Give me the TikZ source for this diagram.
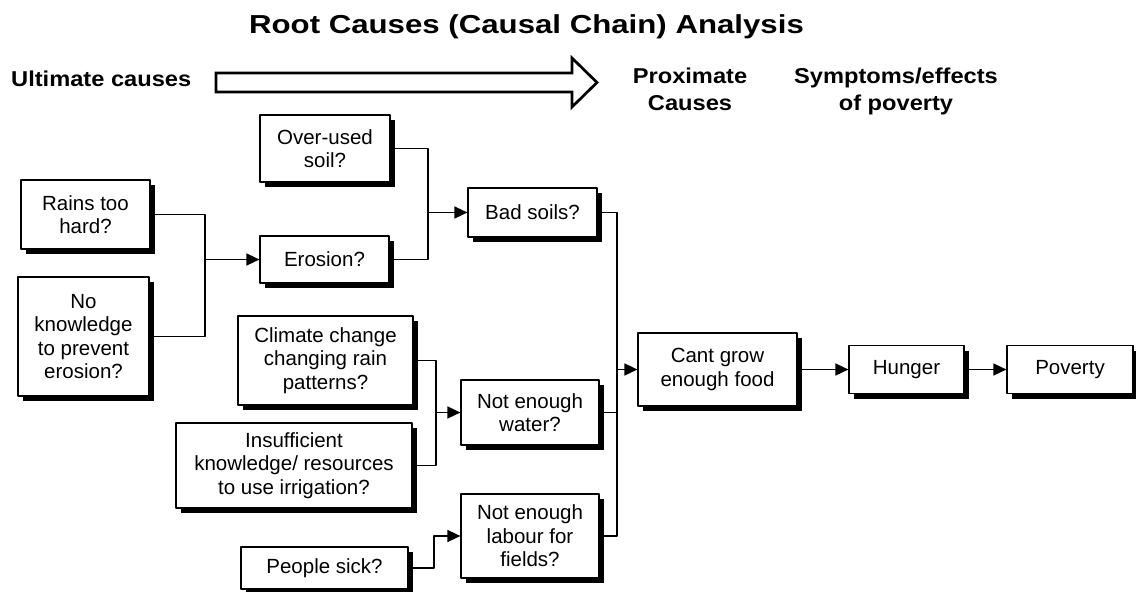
\documentclass[tikz,border=0pt]{standalone}
\usepackage{fontspec}
\setmainfont{Liberation Sans}
\newfontfamily\headfont{Liberation Sans}[FakeStretch=1.1]
\newfontfamily\titlefont{Liberation Sans}[FakeStretch=1.2]
\usetikzlibrary{arrows.meta, calc, shadows}

\begin{document}
\begin{tikzpicture}[line cap=round,line join=round,>={Triangle[length=13pt,width=12pt]},x=1pt,y=-1pt,
  box/.style={draw, line width=1.2pt, fill=white, align=center, inner sep=2pt,
    font=\fontsize{20.5}{23.5}\selectfont,
    drop shadow={shadow xshift=5pt, shadow yshift=-5pt, fill=black, opacity=1}},
  link/.style={line width=1.6pt},
  head/.style={font=\headfont\bfseries\fontsize{21.5}{27}\selectfont, align=center, inner sep=0pt}]
\useasboundingbox (0,0) rectangle (1136,592);

% Heading
\node [anchor=base, inner sep=0pt, font=\titlefont\bfseries\fontsize{26}{30}\selectfont] (title) at (526.5,33) {Root Causes (Causal Chain) Analysis};
\node [head, anchor=base west] (ultimate) at (11,86) {Ultimate causes};
\node [head, anchor=north] (proximate) at (690,68) {Proximate\\Causes};
\node [head, anchor=north] (symptoms) at (896,68) {Symptoms/effects\\of poverty};
\draw [line width=2.7pt, line join=miter] (216,73) -- (572,73) -- (572,58) -- (597,82.5) -- (572,107) -- (572,92) -- (216,92) -- cycle;

% Boxes
\node [box, minimum width=130pt, minimum height=67pt] (over) at (325,148.5) {Over-used\\soil?};
\node [box, minimum width=129pt, minimum height=69pt] (rains) at (85.5,214.5) {Rains too\\hard?};
\node [box, minimum width=129pt, minimum height=47pt] (erosion) at (324.5,259.5) {Erosion?};
\node [box, minimum width=131pt, minimum height=119pt] (noknow) at (83.5,336.5) {No\\knowledge\\to prevent\\erosion?};
\node [box, minimum width=129pt, minimum height=49pt] (bad) at (532.5,212.5) {Bad soils?};
\node [box, minimum width=175pt, minimum height=89pt] (climate) at (325.5,360.5) {Climate change\\changing rain\\patterns?};
\node [box, minimum width=236pt, minimum height=85pt] (insuff) at (294,465.5) {Insufficient\\knowledge/ resources\\to use irrigation?};
\node [box, minimum width=167pt, minimum height=42pt] (sick) at (324.5,568) {People sick?};
\node [box, minimum width=138pt, minimum height=65pt] (water) at (530,412.5) {Not enough\\water?};
\node [box, minimum width=138pt, minimum height=84pt] (labour) at (530,536) {Not enough\\labour for\\fields?};
\node [box, minimum width=159pt, minimum height=73pt] (cant) at (717.5,369.5) {Cant grow\\enough food};
\node [box, minimum width=115pt, minimum height=48pt] (hunger) at (906.5,369.5) {Hunger};
\node [box, minimum width=126pt, minimum height=48pt] (poverty) at (1070,369.5) {Poverty};

% Junctions
\coordinate (j1) at (205,259.5);
\coordinate (j2) at (428,212.5);
\coordinate (j3) at (436,412.5);
\coordinate (j4) at (434,536);
\coordinate (j5) at (617,369.5);

% Links
\foreach \src in {rains,noknow} \draw [link] (\src.east) -| (j1);
\foreach \src in {over,erosion} \draw [link] (\src.east) -| (j2);
\foreach \src in {climate,insuff} \draw [link] (\src.east) -| (j3);
\foreach \src in {bad,water,labour} \draw [link] (\src.east) -| (j5);
\draw [link,->] (j1) -- (erosion.west);
\draw [link,->] (j2) -- (bad.west);
\draw [link,->] (j3) -- (water.west);
\draw [link,->] (sick.east) -| (j4) -- (labour.west);
\draw [link,->] (j5) -- (cant.west);
\draw [link,->] (cant) -- (hunger);
\draw [link,->] (hunger) -- (poverty);
\end{tikzpicture}
\end{document}
